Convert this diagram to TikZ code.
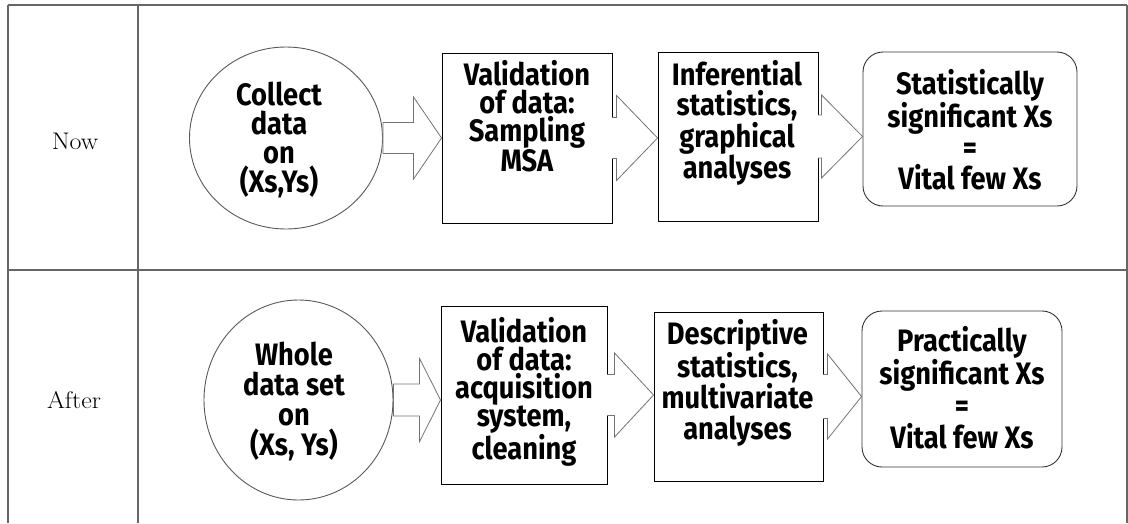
\documentclass[tikz,border=0pt]{standalone}
\usepackage{fontspec}
\setmainfont{Latin Modern Roman}[FakeStretch=1.08]
\newfontfamily\boxfont{Fira Sans}[FakeStretch=0.88]
\usetikzlibrary{shapes.geometric,calc}

\tikzset{
  x=1pt, y=-1pt,
  grid/.style={draw=black!60, line width=1.1pt},
  rowlabel/.style={font=\fontsize{24}{26}\selectfont, inner sep=0},
  txt/.style={font=\boxfont\bfseries\fontsize{31}{#1}\selectfont, align=center, inner sep=0},
  source/.style={ellipse, draw=black!65, line width=0.9pt, inner sep=0},
  stepbox/.style={rectangle, draw=black, line width=0.9pt, inner sep=0},
  goalbox/.style={rectangle, rounded corners=20pt, draw=black!80, line width=0.9pt, inner sep=0},
  blockarrow/.style={draw=black!55, line width=0.8pt, line join=miter, fill=white},
}

% closed block arrow: start, end, head length, body half height, head half height
\newcommand\closedarrow[5]{%
  \draw[blockarrow] let \p1=(#1), \p2=(#2) in
    (\x1,{\y1+#4}) -- ({\x2-#3},{\y1+#4}) -- ({\x2-#3},{\y1+#5}) -- (\x2,\y1)
    -- ({\x2-#3},{\y1-#5}) -- ({\x2-#3},{\y1-#4}) -- (\x1,{\y1-#4}) -- cycle;}

% block arrow that grows out of the box edge it starts from
\newcommand\edgearrow[5]{%
  \fill[white] let \p1=(#1), \p2=(#2) in
    ({\x1-0.9pt},{\y1+#4}) -- ({\x2-#3},{\y1+#4}) -- ({\x2-#3},{\y1+#5}) -- (\x2,\y1)
    -- ({\x2-#3},{\y1-#5}) -- ({\x2-#3},{\y1-#4}) -- ({\x1-0.9pt},{\y1-#4}) -- cycle;
  \draw[blockarrow, fill=none] let \p1=(#1), \p2=(#2) in
    (\x1,{\y1+#4}) -- ({\x2-#3},{\y1+#4}) -- ({\x2-#3},{\y1+#5}) -- (\x2,\y1)
    -- ({\x2-#3},{\y1-#5}) -- ({\x2-#3},{\y1-#4}) -- (\x1,{\y1-#4});}

\begin{document}
\begin{tikzpicture}
\useasboundingbox (0,0) rectangle (1128,523);

% table frame
\coordinate (tl) at (8,5);
\coordinate (tm) at (138,5);
\coordinate (tr) at (1127,5);
\coordinate (bl) at (8,523);
\coordinate (bm) at (138,523);
\coordinate (br) at (1127,523);
\coordinate (ml) at (8,270);
\coordinate (mr) at (1127,270);
\draw[grid] (tl) -- (tr);
\draw[grid] (tl) -- (bl);
\draw[grid] (tm) -- (bm);
\draw[grid] (tr) -- (br);
\draw[grid] (ml) -- (mr);

% row labels
\node[rowlabel] (now) at (75,141) {Now};
\node[rowlabel] (after) at (74,400) {After};

% ---- current approach ----
\node[source, minimum width=193pt, minimum height=182pt] (c1) at (286,138) {};
\node[stepbox, minimum width=170pt, minimum height=170pt] (v1) at (527,138) {};
\node[stepbox, minimum width=160pt, minimum height=169pt] (s1) at (738,136.5) {};
\node[goalbox, minimum width=214pt, minimum height=154pt] (r1) at (970,129) {};

\node[txt=29] (c1t) at (279,140) {Collect\\data\\on\\(Xs,Ys)};
\node[txt=28] (v1t) at (527,116) {Validation\\of data:\\Sampling\\MSA};
\node[txt=30] (s1t) at (737,123) {Inferential\\statistics,\\graphical\\analyses};
\node[txt=31] (r1t) at (970,130) {Statistically\\significant Xs\\=\\Vital few Xs};

\closedarrow{c1.east}{v1.west}{28pt}{15.5pt}{41pt}
\edgearrow{v1.east}{s1.west}{41pt}{20.5pt}{42.5pt}
\edgearrow{s1.east}{r1.west}{41pt}{21.5pt}{41.5pt}

% ---- future approach ----
\node[source, minimum width=189pt, minimum height=200pt] (c2) at (298.5,400) {};
\node[stepbox, minimum width=166pt, minimum height=178pt] (v2) at (524,395) {};
\node[stepbox, minimum width=169pt, minimum height=169pt] (s2) at (738.5,396.5) {};
\node[goalbox, minimum width=200pt, minimum height=156pt] (r2) at (962,389) {};

\node[txt=30] (c2t) at (294,401) {Whole\\data set\\on\\(Xs, Ys)};
\node[txt=28] (v2t) at (524,392) {Validation\\of data:\\acquisition\\system,\\cleaning};
\node[txt=31] (s2t) at (737.5,383) {Descriptive\\statistics,\\multivariate\\analyses};
\node[txt=32] (r2t) at (962,388) {Practically\\significant Xs\\=\\Vital few Xs};

\closedarrow{c2.east}{v2.west}{21pt}{16pt}{41.5pt}
\edgearrow{v2.east}{s2.west}{39pt}{20.5pt}{42pt}
\edgearrow{s2.east}{r2.west}{34pt}{22pt}{42.5pt}
\end{tikzpicture}
\end{document}
